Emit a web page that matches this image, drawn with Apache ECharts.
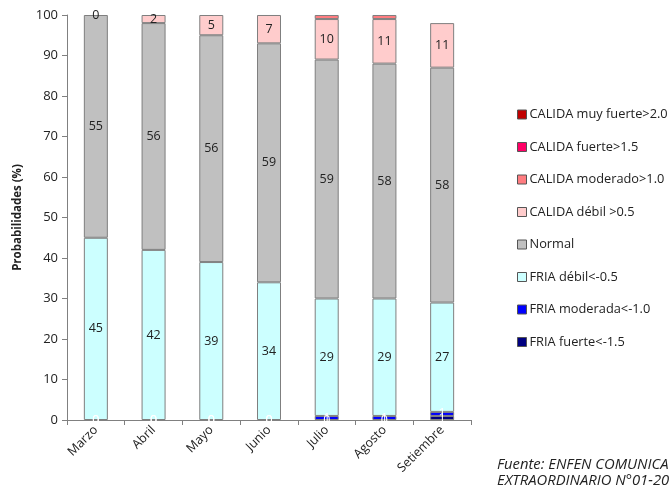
<!DOCTYPE html>
<html>
<head>
<meta charset="utf-8">
<script src="https://cdn.jsdelivr.net/npm/echarts@6/dist/echarts.min.js"></script>
<style>
  html, body { margin: 0; padding: 0; background: #fff; }
  #chart { width: 669px; height: 486px; }
</style>
</head>
<body>
<div id="chart"></div>
<script>
// Forecast probabilities (%) per month, by category
const months = ['Marzo', 'Abril', 'Mayo', 'Junio', 'Julio', 'Agosto', 'Setiembre'];

const friaFuerte      = [0, 0, 0, 0, 0, 0, 1];
const friaModerada    = [0, 0, 0, 0, 1, 1, 1];
const friaDebil       = [45, 42, 39, 34, 29, 29, 27];
const normal          = [55, 56, 56, 59, 59, 58, 58];
const calidaDebil     = [0, 2, 5, 7, 10, 11, 11];
const calidaModerado  = [0, 0, 0, 0, 1, 1, 0];
const calidaFuerte    = [0, 0, 0, 0, 0, 0, 0];
const calidaMuyFuerte = [0, 0, 0, 0, 0, 0, 0];

const yTicks = [0, 10, 20, 30, 40, 50, 60, 70, 80, 90, 100];

const FONT = 'Open Sans';

// zero-height segments get no outline so they leave no stray line
function toItems(data) {
  return data.map(v => v === 0
    ? { value: v, itemStyle: { borderWidth: 0 } }
    : { value: v });
}

function stackSeries(name, data, color, labelColor) {
  return {
    name: name,
    type: 'bar',
    stack: 'total',
    barWidth: 24,
    data: toItems(data),
    itemStyle: { color: color, borderColor: '#7f7f7f', borderWidth: 1 },
    label: labelColor ? {
      show: true,
      position: 'inside',
      color: labelColor,
      fontFamily: FONT,
      fontSize: 12.5
    } : { show: false },
    emphasis: { disabled: true }
  };
}

const chart = echarts.init(document.getElementById('chart'), null, { renderer: 'canvas' });

chart.setOption({
  animation: false,
  backgroundColor: '#ffffff',
  grid: { left: 67, right: 198, top: 15, bottom: 66 },
  legend: {
    orient: 'vertical',
    left: 512,
    top: 103,
    itemWidth: 9,
    itemHeight: 9,
    itemGap: 19.5,
    icon: 'rect',
    textStyle: { fontFamily: FONT, fontSize: 12.8, color: '#222', padding: [0, 0, 0, -2] },
    itemStyle: { borderColor: '#555', borderWidth: 1 },
    data: [
      'CALIDA muy fuerte>2.0',
      'CALIDA fuerte>1.5',
      'CALIDA moderado>1.0',
      'CALIDA débil >0.5',
      'Normal',
      'FRIA débil<-0.5',
      'FRIA moderada<-1.0',
      'FRIA fuerte<-1.5'
    ]
  },
  xAxis: {
    type: 'category',
    data: months,
    axisLine: { lineStyle: { color: '#808080', width: 1 } },
    axisTick: { show: true, length: 5, lineStyle: { color: '#808080' } },
    axisLabel: {
      rotate: 45,
      fontFamily: FONT,
      fontSize: 12.5,
      color: '#222',
      margin: 8
    }
  },
  yAxis: {
    type: 'value',
    min: yTicks[0],
    max: yTicks[yTicks.length - 1],
    interval: 10,
    name: 'Probabilidades (%)',
    nameLocation: 'middle',
    nameGap: 43,
    nameTextStyle: { fontFamily: FONT, fontSize: 11.5, fontWeight: 'bold', color: '#222' },
    axisLine: { show: true, lineStyle: { color: '#808080', width: 1 } },
    axisTick: { show: true, length: 5, lineStyle: { color: '#808080' } },
    splitLine: { show: false },
    axisLabel: { fontFamily: FONT, fontSize: 13, color: '#222', margin: 9 }
  },
  series: [
    stackSeries('FRIA fuerte<-1.5', friaFuerte, '#000080', '#ffffff'),
    stackSeries('FRIA moderada<-1.0', friaModerada, '#0000ff', '#ffffff'),
    stackSeries('FRIA débil<-0.5', friaDebil, '#ccffff', '#222'),
    stackSeries('Normal', normal, '#c0c0c0', '#222'),
    stackSeries('CALIDA débil >0.5', calidaDebil, '#ffcccc', '#222'),
    stackSeries('CALIDA moderado>1.0', calidaModerado, '#ff7c80', null),
    stackSeries('CALIDA fuerte>1.5', calidaFuerte, '#ff0066', null),
    stackSeries('CALIDA muy fuerte>2.0', calidaMuyFuerte, '#c00000', null)
  ],
  graphic: [
    {
      type: 'text',
      left: 497,
      top: 457,
      style: {
        text: 'Fuente: ENFEN COMUNICADO\nEXTRAORDINARIO N°01-2015',
        fontFamily: FONT,
        fontSize: 14.8,
        fontStyle: 'italic',
        lineHeight: 16,
        fill: '#222'
      }
    }
  ]
});
</script>
</body>
</html>
